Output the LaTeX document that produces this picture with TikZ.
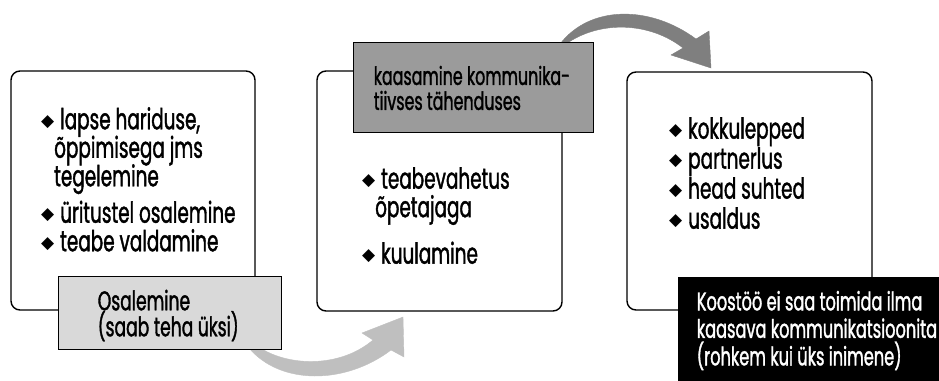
\documentclass[tikz,border=0pt]{standalone}
\usepackage{fontspec}
\setmainfont[FakeStretch=0.635,FakeBold=1.3]{Poppins}
\newfontfamily\symfont{DejaVu Sans}
\definecolor{tagpale}{HTML}{D9D9D9}
\definecolor{tagmid}{HTML}{9B9B9B}
\definecolor{arrowpale}{HTML}{BFBFBF}
\definecolor{arrowdark}{HTML}{7F7F7F}
% bullet glyph followed by the gap before the item text
\newcommand\bul{\makebox[19pt][l]{\raisebox{3pt}{\symfont\fontsize{17}{17}\selectfont ◆}}}
\newcommand\cont{\hspace*{13pt}}
% fixed baseline distance, whatever the accents
\newcommand\fixedlines{\lineskiplimit=-30pt\lineskip=0pt}
\begin{document}
\begin{tikzpicture}[x=1pt,y=-1pt,
  card/.style={draw=black, line width=1.4pt, rounded corners=9pt, fill=white, inner sep=0pt},
  tag/.style={draw=black, line width=0.8pt, inner sep=0pt},
  bodytext/.style={anchor=north west, inner sep=0pt, align=left,
    font=\fontsize{29}{28.5}\selectfont\fixedlines},
  tagtext/.style={anchor=west, inner sep=0pt, align=left,
    font=\fontsize{27}{26}\selectfont\fixedlines}]
\useasboundingbox (0,0) rectangle (939,380);

% curved arrows between the stages (drawn first, the tags sit on top)
\filldraw[arrowpale] (249,348) .. controls (280,385) and (345,385) .. (391,350)
  -- (404,357) -- (403,317) -- (362,333) -- (373,340)
  .. controls (340,368) and (290,366) .. (262,349) -- cycle;
\filldraw[arrowdark] (560,44) .. controls (590,5) and (650,5) .. (696,39)
  -- (709,31) -- (711,68) -- (671,55) -- (683,48)
  .. controls (650,22) and (600,20) .. (566,44) -- cycle;

% stage cards
\node[card, minimum width=244pt, minimum height=239pt] (b1) at (133,190.5) {};
\node[card, minimum width=245pt, minimum height=240pt] (b2) at (439.5,191) {};
\node[card, minimum width=245pt, minimum height=238pt] (b3) at (749.5,191) {};

% card contents
\node[bodytext] (t1) at (41,107) {\bul lapse hariduse,\\\cont õppimisega jms\\\cont tegelemine\\[8pt]
  \bul üritustel osalemine\\\bul teabe valdamine};
\node[bodytext] (t2) at (362,167) {\bul teabevahetus\\\cont õpetajaga\\[18pt]\bul kuulamine};
\node[bodytext, font=\fontsize{29}{30}\selectfont\fixedlines] (t3) at (669,117)
  {\bul kokkulepped\\\bul partnerlus\\\bul head suhted\\\bul usaldus};

% stage tags
\node[tag, fill=tagpale, minimum width=223pt, minimum height=73pt] (l1) at (169.5,312.5) {};
\node[tagtext] (l1t) at ([xshift=40pt,yshift=-3pt]l1.west) {Osalemine\\(saab teha üksi)};
\node[tag, fill=tagmid, minimum width=240pt, minimum height=90pt] (l2) at (473,87) {};
\node[tagtext, font=\fontsize{25}{25}\selectfont\fixedlines] (l2t) at ([xshift=21pt,yshift=-1pt]l2.west)
  {kaasamine kommunika-\\tiivses tähenduses};
\node[tag, fill=black, minimum width=262pt, minimum height=103pt] (l3) at (809,328.5) {};
\node[tagtext, text=white, font=\fontsize{25.5}{27.5}\selectfont\fixedlines] (l3t)
  at ([xshift=19pt,yshift=-2pt]l3.west)
  {Koostöö ei saa toimida ilma\\kaasava kommunikatsioonita\\(rohkem kui üks inimene)};
\end{tikzpicture}
\end{document}
